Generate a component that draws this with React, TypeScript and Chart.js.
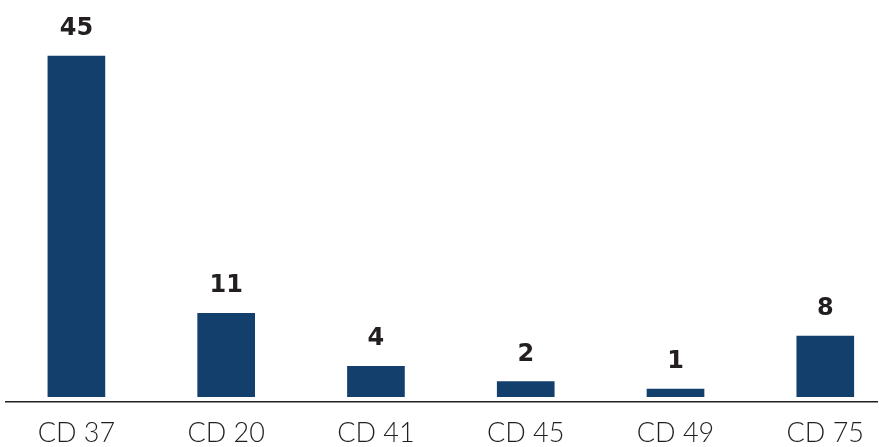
import React, { useEffect, useRef } from "react";
import { Chart, registerables } from "chart.js";

Chart.register(...registerables);

const categories = ["CD 37", "CD 20", "CD 41", "CD 45", "CD 49", "CD 75"];
const values = [45, 11, 4, 2, 1, 8];

const BAR_COLOR = "#133F6D";
const TEXT_COLOR = "#231F20";

const valueLabelPlugin = {
  id: "valueLabels",
  afterDatasetsDraw(chart: any) {
    const ctx = chart.ctx;
    const meta = chart.getDatasetMeta(0);
    ctx.save();
    ctx.font = 'bold 24px "DejaVu Sans"';
    ctx.fillStyle = TEXT_COLOR;
    ctx.textAlign = "center";
    ctx.textBaseline = "alphabetic";
    meta.data.forEach((el: any, i: number) => {
      ctx.fillText(String(values[i]), el.x, el.y - 21);
    });
    ctx.restore();
  },
};

export default function App() {
  const ref = useRef<HTMLCanvasElement | null>(null);
  useEffect(() => {
    if (!ref.current) return;
    const chart = new Chart(ref.current, {
      type: "bar",
      data: {
        datasets: [
          {
            data: values.map((v, i) => ({ x: i, y: v })),
            backgroundColor: BAR_COLOR,
            barThickness: 57,
            borderWidth: 0,
          },
        ],
      },
      options: {
        animation: false,
        responsive: true,
        maintainAspectRatio: false,
        layout: { padding: { left: 6, right: 0, top: 0, bottom: 0 } },
        plugins: { legend: { display: false }, tooltip: { enabled: false } },
        scales: {
          x: {
            type: "linear",
            offset: false,
            min: -0.47,
            max: 5.35,
            grid: { display: false, drawTicks: false },
            border: { display: true, color: TEXT_COLOR, width: 1.5 },
            afterBuildTicks: (axis: any) => {
              axis.ticks = categories.map((_, i) => ({ value: i }));
            },
            afterFit: (axis: any) => {
              axis.height = 45;
            },
            ticks: {
              autoSkip: false,
              maxRotation: 0,
              padding: 15,
              color: TEXT_COLOR,
              font: { family: "Lato", size: 27, weight: "300" as any },
              callback: (v: any) => categories[v as number] ?? "",
            },
          },
          y: {
            display: false,
            min: -0.7,
            max: 52.4,
          },
        },
      },
      plugins: [valueLabelPlugin],
    });
    return () => chart.destroy();
  }, []);
  return (
    <div style={{ position: "fixed", left: 0, top: 0, width: 879, height: 447 }}>
      <canvas ref={ref} />
    </div>
  );
}
